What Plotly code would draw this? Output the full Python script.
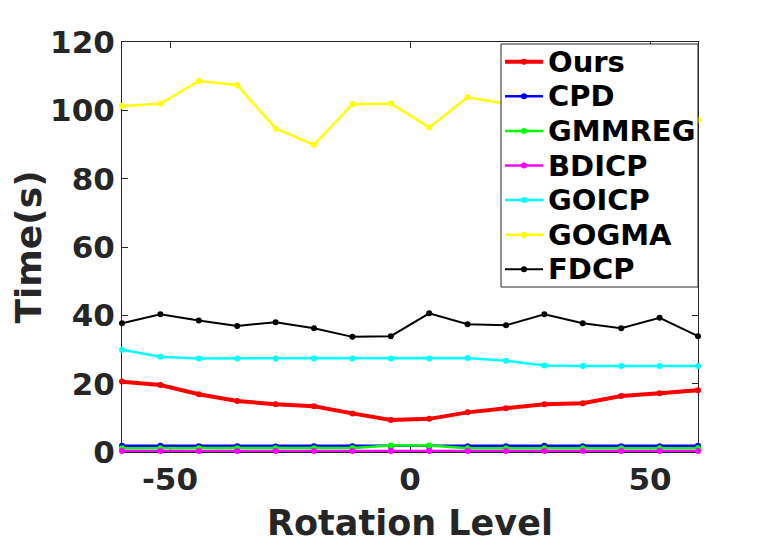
import plotly.graph_objects as go

# niveis de rotacao (graus)
rotacao = [-60, -52, -44, -36, -28, -20, -12, -4, 4, 12, 20, 28, 36, 44, 52, 60]
x_ticks = [-50, 0, 50]
x_ticktext = ["-50", "0", "50"]
y_ticks = [0, 20, 40, 60, 80, 100, 120]

# tempos (s)
ours = [20.6, 19.6, 16.9, 14.9, 14.0, 13.4, 11.3, 9.4, 9.7, 11.6, 12.8, 14.0, 14.3, 16.4, 17.2, 18.1]
cpd = [1.8, 1.8, 1.7, 1.7, 1.6, 1.7, 1.7, 1.6, 1.6, 1.7, 1.7, 1.8, 1.7, 1.7, 1.7, 1.8]
gmmreg = [1.1, 1.1, 1.1, 1.1, 1.1, 1.1, 1.2, 1.9, 1.9, 1.1, 1.1, 1.1, 1.1, 1.1, 1.1, 1.1]
bdicp = [0.3] * 16
goicp = [29.9, 27.9, 27.4, 27.4, 27.4, 27.4, 27.4, 27.4, 27.4, 27.5, 26.7, 25.3, 25.2, 25.2, 25.2, 25.2]
gogma = [101.3, 101.9, 108.6, 107.4, 94.7, 89.9, 101.8, 102.0, 95.0, 103.8, 101.9, 101.0, 100.2, 100.8, 99.0, 97.2]
fdcp = [37.7, 40.3, 38.5, 36.9, 38.0, 36.2, 33.7, 33.9, 40.6, 37.4, 37.1, 40.3, 37.7, 36.2, 39.3, 33.9]

series = [
    ("Ours", ours, "#ff0000", 4),
    ("CPD", cpd, "#0000ff", 2.5),
    ("GMMREG", gmmreg, "#00ff00", 2.5),
    ("BDICP", bdicp, "#ff00ff", 2.5),
    ("GOICP", goicp, "#00ffff", 2.5),
    ("GOGMA", gogma, "#ffff00", 2.5),
    ("FDCP", fdcp, "#000000", 2),
]

fig = go.Figure()
for nome, valores, cor, largura in series:
    fig.add_trace(go.Scatter(
        x=rotacao, y=valores, name=nome, mode="lines+markers",
        line=dict(color=cor, width=largura),
        marker=dict(color=cor, size=6),
        cliponaxis=False, showlegend=False,
    ))

# area do grafico em pixels (pagina tem margem de 8px)
X0, LARG, Y_BASE, ALT = 122, 576, 452, 410

def px(p):
    return (p - X0) / LARG

def py(p):
    return (Y_BASE - p) / ALT

# legenda desenhada a mao, para controlar o espacamento
fig.add_shape(type="rect", xref="paper", yref="paper",
              x0=px(501), x1=px(698), y0=py(287), y1=py(44),
              fillcolor="white", line=dict(color="#262626", width=1))
for i, (nome, valores, cor, largura) in enumerate(series):
    yc = 61.7 + 34.6 * i
    fig.add_shape(type="line", xref="paper", yref="paper",
                  x0=px(505), x1=px(543), y0=py(yc), y1=py(yc),
                  line=dict(color=cor, width=largura))
    fig.add_shape(type="circle", xref="paper", yref="paper",
                  x0=px(521), x1=px(527), y0=py(yc + 3), y1=py(yc - 3),
                  fillcolor=cor, line=dict(color=cor, width=0))
    fig.add_annotation(xref="paper", yref="paper", x=px(546), y=py(yc),
                       text="<b>" + nome + "</b>", showarrow=False,
                       xanchor="left", yanchor="middle",
                       font=dict(size=29, color="black", family="DejaVu Sans"))

eixo = dict(
    showgrid=False, zeroline=False, showline=True, linecolor="#262626", linewidth=1,
    mirror="ticks", ticks="inside", ticklen=6, tickcolor="#262626", layer="below traces",
    automargin=False,
    tickfont=dict(size=31, color="#262626", family="DejaVu Sans", weight="bold"),
)

fig.update_layout(
    width=763, height=535,
    margin=dict(l=114, r=73, t=34, b=91),
    plot_bgcolor="white", paper_bgcolor="white",
    font=dict(family="DejaVu Sans", color="#262626"),
    xaxis=dict(eixo, range=[-60, 60], tickvals=x_ticks, ticktext=x_ticktext,
               title=dict(text="<b>Rotation Level</b>", font=dict(size=35))),
    yaxis=dict(eixo, range=[0, 120], tickvals=y_ticks,
               title=dict(text="<b>Time(s)</b>", font=dict(size=36))),
    showlegend=False,
)

fig.write_html("out.html")
